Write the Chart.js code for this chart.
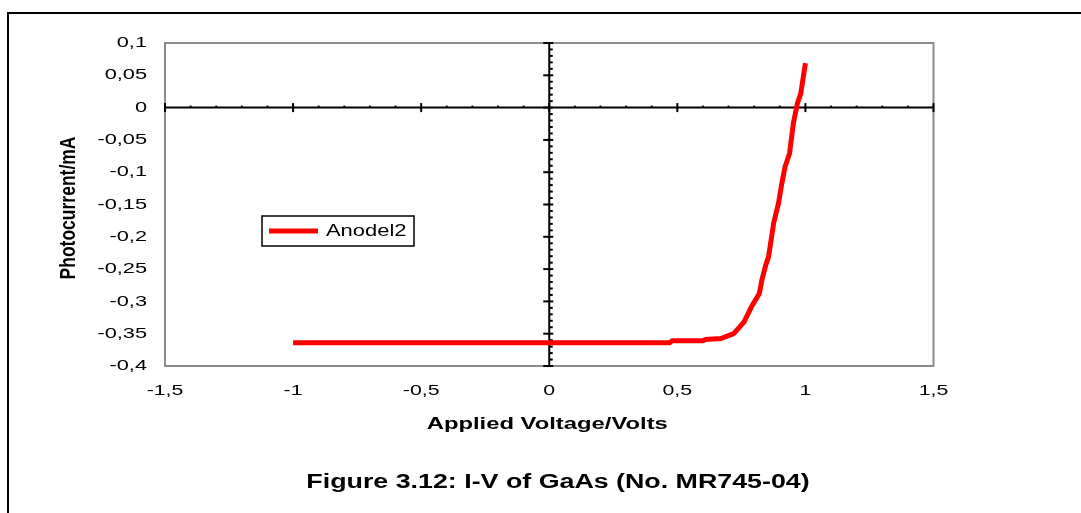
<!DOCTYPE html>
<html>
<head>
<meta charset="utf-8">
<script src="https://cdn.jsdelivr.net/npm/chart.js@4"></script>
<style>
  body { margin: 0; background: #fff; }
  canvas { display: block; }
</style>
</head>
<body>
<canvas id="ivChart" width="1081" height="513"></canvas>
<script>
// values
const seriesName = 'Anodel2';
const voltage = [-1, -0.5, 0, 0.47, 0.48, 0.6, 0.61, 0.67, 0.72, 0.76, 0.79, 0.82, 0.83, 0.845, 0.856, 0.866, 0.876, 0.895, 0.908, 0.921, 0.938, 0.953, 0.969, 0.982, 1.0];
const current = [-0.364, -0.364, -0.364, -0.364, -0.361, -0.361, -0.359, -0.3575, -0.35, -0.332, -0.308, -0.288, -0.267, -0.244, -0.231, -0.205, -0.179, -0.148, -0.117, -0.091, -0.071, -0.024, 0.007, 0.022, 0.069];
const xTicks = [-1.5, 1.5, 0.5];   // min, max, step
const yTicks = [-0.4, 0.1, 0.05];
const xTitle = 'Applied Voltage/Volts';
const yTitle = 'Photocurrent/mA';
const caption = 'Figure 3.12: I-V of GaAs (No. MR745-04)';

const FONT = '"Liberation Sans", Arial, sans-serif';
Chart.defaults.font.family = FONT;
Chart.defaults.color = '#000';

function comma(v) {
  return String(Number(v.toFixed(2))).replace('.', ',');
}

// the original figure is squeezed wide, so text gets a horizontal stretch
function stretchText(ctx, text, x, y, font, align, base, sx, rotate) {
  ctx.save();
  ctx.translate(x, y);
  ctx.scale(sx, 1);
  if (rotate) ctx.rotate(-Math.PI / 2);
  ctx.font = font;
  ctx.textAlign = align;
  ctx.textBaseline = base;
  ctx.fillStyle = '#000';
  ctx.fillText(text, 0, 0);
  ctx.restore();
}

// grey plot box, axes through zero with Excel style ticks
const axesPlugin = {
  id: 'axesPlugin',
  beforeDatasetsDraw(chart) {
    const { ctx, chartArea: a, scales: { x, y } } = chart;
    const x0 = x.getPixelForValue(0), y0 = y.getPixelForValue(0);
    ctx.save();
    ctx.strokeStyle = '#8c8c8c';
    ctx.lineWidth = 2;
    ctx.strokeRect(a.left, a.top, a.right - a.left, a.bottom - a.top);

    ctx.strokeStyle = '#000';
    ctx.beginPath();
    ctx.moveTo(a.left, y0); ctx.lineTo(a.right, y0);
    ctx.moveTo(x0, a.top); ctx.lineTo(x0, a.bottom);
    ctx.stroke();

    // x ticks
    for (let i = -15; i <= 15; i++) {
      const px = x.getPixelForValue(i / 10);
      ctx.beginPath();
      if (i % 5 === 0) {
        ctx.moveTo(px, y0 - 4.5); ctx.lineTo(px, y0 + 4.5);
      } else {
        ctx.moveTo(px, y0 - 2); ctx.lineTo(px, y0);
      }
      ctx.stroke();
    }
    // y ticks
    for (let j = -40; j <= 10; j++) {
      const py = y.getPixelForValue(j / 100);
      ctx.beginPath();
      if (j % 5 === 0) {
        ctx.moveTo(x0 - 6, py); ctx.lineTo(x0 + 4, py);
      } else {
        ctx.moveTo(x0, py); ctx.lineTo(x0 + 3.5, py);
      }
      ctx.stroke();
    }
    ctx.restore();
  },
  afterDraw(chart) {
    const { ctx, chartArea: a, scales: { x, y } } = chart;
    ctx.save();
    // outer figure frame
    ctx.strokeStyle = '#000';
    ctx.lineWidth = 2;
    ctx.beginPath();
    ctx.moveTo(8, 520); ctx.lineTo(8, 13); ctx.lineTo(1090, 13);
    ctx.stroke();

    // tick labels from the library's ticks
    x.ticks.forEach(t => {
      stretchText(ctx, comma(t.value), x.getPixelForValue(t.value), 391, '15px ' + FONT, 'center', 'middle', 1.42);
    });
    y.ticks.forEach(t => {
      stretchText(ctx, comma(t.value), 147, y.getPixelForValue(t.value), '15px ' + FONT, 'right', 'middle', 1.45);
    });

    // axis titles
    stretchText(ctx, xTitle, (a.left + a.right) / 2 - 2, 424, 'bold 17px ' + FONT, 'center', 'middle', 1.4);
    stretchText(ctx, yTitle, 69, 208, 'bold 17.5px ' + FONT, 'center', 'middle', 1.3, true);

    // legend box
    ctx.fillStyle = '#fff';
    ctx.fillRect(262, 216, 152, 30);
    ctx.strokeStyle = '#000';
    ctx.lineWidth = 1.5;
    ctx.strokeRect(262, 216, 152, 30);
    ctx.strokeStyle = '#ff0000';
    ctx.lineWidth = 5;
    ctx.beginPath();
    ctx.moveTo(269, 231); ctx.lineTo(318, 231);
    ctx.stroke();
    stretchText(ctx, chart.data.datasets[0].label, 326, 232, '16px ' + FONT, 'left', 'middle', 1.37);

    // caption
    stretchText(ctx, caption, 558, 488, 'bold 20px ' + FONT, 'center', 'alphabetic', 1.34);
    ctx.restore();
  }
};

new Chart(document.getElementById('ivChart'), {
  type: 'scatter',
  data: {
    datasets: [{
      label: seriesName,
      data: voltage.map((v, i) => ({ x: v, y: current[i] })),
      showLine: true,
      borderColor: '#ff0000',
      borderWidth: 5,
      pointRadius: 0,
      tension: 0
    }]
  },
  options: {
    responsive: false,
    animation: false,
    layout: { padding: { left: 0, top: 43, right: 147.5, bottom: 0 } },
    plugins: {
      legend: { display: false },
      tooltip: { enabled: false }
    },
    scales: {
      x: {
        type: 'linear',
        min: xTicks[0], max: xTicks[1],
        grid: { display: false },
        border: { display: false },
        ticks: { stepSize: xTicks[2], display: false },
        afterFit(scale) { scale.height = 147; }
      },
      y: {
        min: yTicks[0], max: yTicks[1],
        grid: { display: false },
        border: { display: false },
        ticks: { stepSize: yTicks[2], display: false },
        afterFit(scale) { scale.width = 165; }
      }
    }
  },
  plugins: [axesPlugin]
});
</script>
</body>
</html>
